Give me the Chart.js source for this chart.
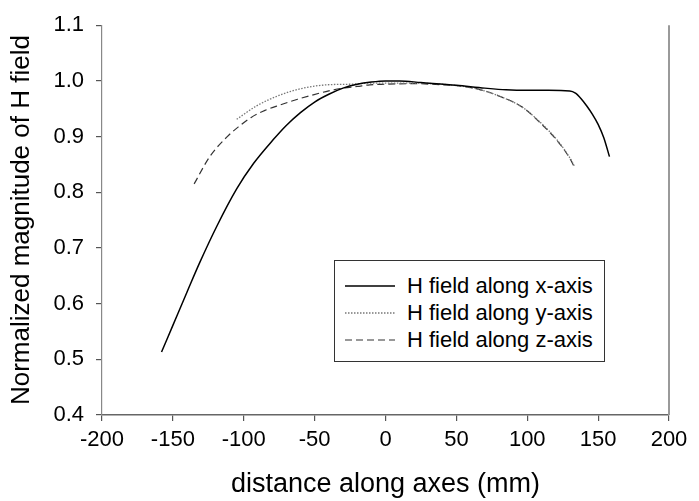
<!DOCTYPE html>
<html>
<head>
<meta charset="utf-8">
<script src="https://cdn.jsdelivr.net/npm/chart.js@4/dist/chart.umd.min.js"></script>
<style>
  html, body { margin: 0; padding: 0; background: #fff; }
  #wrap { position: relative; width: 699px; height: 501px; }
  #legend {
    position: absolute; left: 334px; top: 260px; width: 271px; height: 102px;
    border: 1.5px solid #333; background: #fff;
    font-family: "Liberation Sans", Arial, sans-serif; font-size: 22px; color: #000;
    box-sizing: border-box; padding-top: 11px;
  }
  .row { display: flex; align-items: center; height: 27px; }
  .row svg { margin-left: 10px; margin-right: 12px; }
</style>
</head>
<body>
<div id="wrap">
  <canvas id="chart" width="699" height="501"></canvas>
  <div id="legend"></div>
</div>
<script>
// ---------- Dati ----------
const xAxisX = [-158, -150, -140, -131, -119, -105, -93, -79, -70, -60, -50, -40, -30, -20, -10, 0, 10, 25, 50, 70, 85, 100, 115, 130, 134, 138, 142, 146, 150, 154, 158];
const xAxisY = [0.513, 0.561, 0.621, 0.674, 0.739, 0.806, 0.852, 0.895, 0.920, 0.943, 0.962, 0.976, 0.987, 0.994, 0.998, 1.000, 1.000, 0.997, 0.992, 0.987, 0.984, 0.983, 0.983, 0.982, 0.978, 0.968, 0.955, 0.940, 0.922, 0.898, 0.864];

const yAxisX = [-105, -91, -74, -58, -41, -25, -11, 0, 20, 40, 55, 67, 81, 97, 109, 121, 130, 133.5];
const yAxisY = [0.931, 0.955, 0.975, 0.987, 0.993, 0.994, 0.996, 0.996, 0.996, 0.994, 0.990, 0.984, 0.972, 0.952, 0.926, 0.894, 0.862, 0.846];

const zAxisX = [-135, -124, -112, -104, -95, -85, -74, -62, -51, -40, -30, -20, -11, 0, 20, 40, 55, 67, 81, 97, 109, 121, 130, 133.5];
const zAxisY = [0.815, 0.864, 0.899, 0.917, 0.934, 0.947, 0.957, 0.967, 0.975, 0.982, 0.987, 0.990, 0.993, 0.994, 0.995, 0.993, 0.990, 0.984, 0.972, 0.952, 0.925, 0.893, 0.861, 0.844];

const seriesLabels = ["H field along x-axis", "H field along y-axis", "H field along z-axis"];
const xTicks = [-200, -150, -100, -50, 0, 50, 100, 150, 200];
const yTicks = [0.4, 0.5, 0.6, 0.7, 0.8, 0.9, 1.0, 1.1];

const FONT = '"Liberation Sans", Arial, sans-serif';
const toPts = (xs, ys) => xs.map((x, i) => ({ x, y: ys[i] }));

// ---------- Stili serie ----------
const styles = [
  { color: "#000", width: 1.5, dash: [] },
  { color: "#777", width: 1.3, dash: [1.5, 1.5] },
  { color: "#333", width: 1.2, dash: [7, 4] },
];

const datasets = [
  { label: seriesLabels[0], data: toPts(xAxisX, xAxisY) },
  { label: seriesLabels[1], data: toPts(yAxisX, yAxisY) },
  { label: seriesLabels[2], data: toPts(zAxisX, zAxisY) },
].map((d, i) => ({
  ...d,
  borderColor: styles[i].color,
  borderWidth: styles[i].width,
  borderDash: styles[i].dash,
  pointRadius: 0,
  fill: false,
  cubicInterpolationMode: "monotone",
}));

// bordo destro grigio del riquadro
const frameRight = {
  id: "frameRight",
  afterDraw(chart) {
    const { ctx, chartArea } = chart;
    ctx.save();
    ctx.strokeStyle = "#9a9a9a";
    ctx.lineWidth = 2;
    ctx.beginPath();
    ctx.moveTo(chartArea.right, chartArea.top);
    ctx.lineTo(chartArea.right, chartArea.bottom);
    ctx.stroke();
    ctx.restore();
  },
};

const tickGrid = { display: true, drawOnChartArea: false, drawTicks: true, tickLength: 6, color: "#555", lineWidth: 1.2 };

new Chart(document.getElementById("chart"), {
  type: "line",
  data: { datasets },
  options: {
    responsive: false,
    animation: false,
    layout: { padding: { left: 0, right: 30, top: 16, bottom: 0 } },
    plugins: { legend: { display: false }, tooltip: { enabled: false } },
    scales: {
      x: {
        type: "linear",
        min: xTicks[0],
        max: xTicks[xTicks.length - 1],
        afterBuildTicks: (s) => { s.ticks = xTicks.map((v) => ({ value: v })); },
        afterFit: (s) => { s.height = 86; },
        ticks: { color: "#000", font: { family: FONT, size: 22 }, padding: 6, maxRotation: 0 },
        grid: tickGrid,
        border: { display: true, color: "#666", width: 1.5 },
        title: { display: true, text: "distance along axes (mm)", color: "#000", font: { family: FONT, size: 27 }, padding: { top: 0, bottom: 0 } },
      },
      y: {
        min: yTicks[0],
        max: yTicks[yTicks.length - 1],
        afterBuildTicks: (s) => { s.ticks = yTicks.map((v) => ({ value: v })); },
        afterFit: (s) => { s.width = 102; },
        ticks: { color: "#000", font: { family: FONT, size: 22 }, padding: 12, callback: (v) => Number(v).toFixed(1) },
        grid: tickGrid,
        border: { display: true, color: "#888", width: 1.2 },
        title: { display: true, text: "Normalized magnitude of H field", color: "#000", font: { family: FONT, size: 26 }, padding: { top: 6, bottom: 0 } },
      },
    },
  },
  plugins: [frameRight],
});

// ---------- Legenda HTML ----------
const legend = document.getElementById("legend");
datasets.forEach((d) => {
  const row = document.createElement("div");
  row.className = "row";
  row.innerHTML = `<svg width="50" height="4"><line x1="0" y1="2" x2="50" y2="2" stroke="${d.borderColor}" stroke-width="${d.borderWidth}" stroke-dasharray="${d.borderDash.join(",") || "none"}"/></svg><span>${d.label}</span>`;
  legend.appendChild(row);
});
</script>
</body>
</html>
